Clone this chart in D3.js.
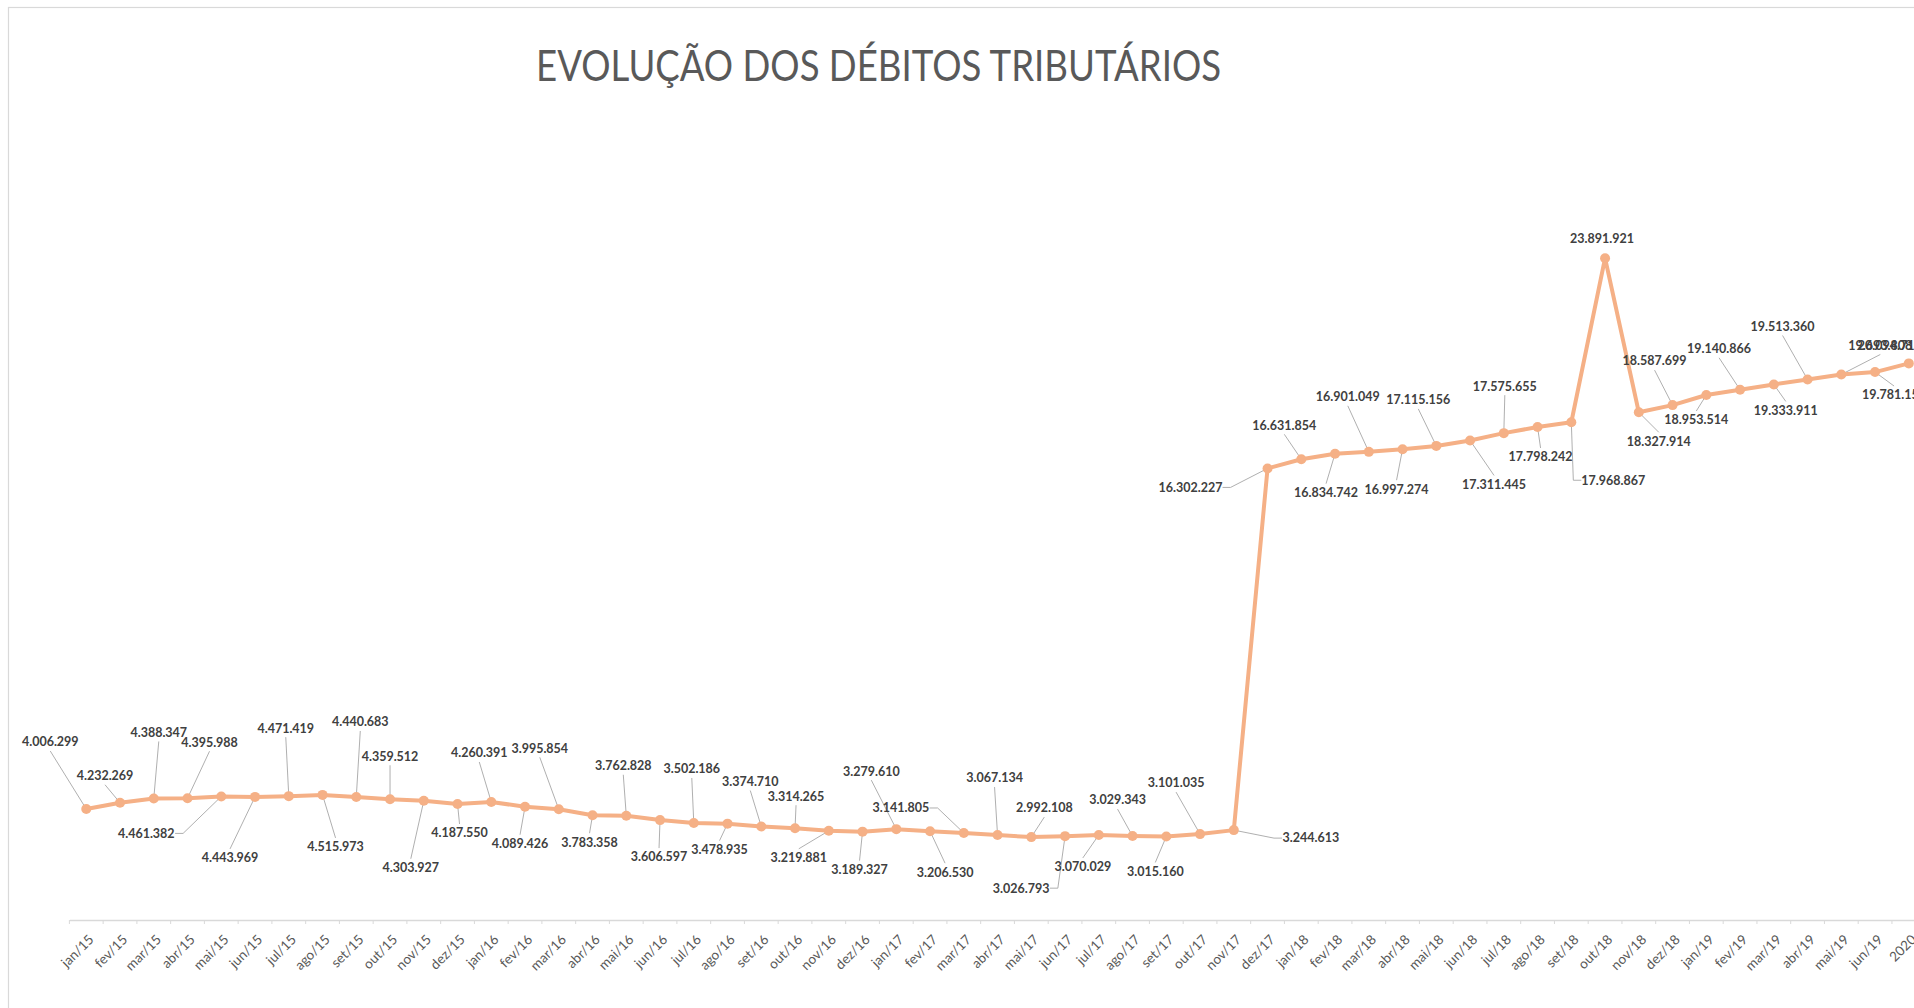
<!DOCTYPE html>
<html>
<head>
<meta charset="utf-8">
<script src="https://cdn.jsdelivr.net/npm/d3@7"></script>
<style>
  html, body { margin: 0; padding: 0; background: #fff; overflow: hidden; }
  svg { display: block; }
</style>
</head>
<body>
<svg id="chart" width="1914" height="1008"></svg>
<script>
const categories = [
  'jan/15', 'fev/15', 'mar/15', 'abr/15', 'mai/15', 'jun/15', 'jul/15', 'ago/15', 'set/15', 'out/15', 'nov/15', 'dez/15',
  'jan/16', 'fev/16', 'mar/16', 'abr/16', 'mai/16', 'jun/16', 'jul/16', 'ago/16', 'set/16', 'out/16', 'nov/16', 'dez/16',
  'jan/17', 'fev/17', 'mar/17', 'abr/17', 'mai/17', 'jun/17', 'jul/17', 'ago/17', 'set/17', 'out/17', 'nov/17', 'dez/17',
  'jan/18', 'fev/18', 'mar/18', 'abr/18', 'mai/18', 'jun/18', 'jul/18', 'ago/18', 'set/18', 'out/18', 'nov/18', 'dez/18',
  'jan/19', 'fev/19', 'mar/19', 'abr/19', 'mai/19', 'jun/19', '2020'
];

const debitos = [
  4006299, 4232269, 4388347, 4395988, 4461382, 4443969, 4471419, 4515973, 4440683, 4359512, 4303927, 4187550,
  4260391, 4089426, 3995854, 3783358, 3762828, 3606597, 3502186, 3478935, 3374710, 3314265, 3219881, 3189327,
  3279610, 3206530, 3141805, 3067134, 2992108, 3026793, 3070029, 3029343, 3015160, 3101035, 3244613, 16302227,
  16631854, 16834742, 16901049, 16997274, 17115156, 17311445, 17575655, 17798242, 17968867, 23891921, 18327914, 18587699,
  18953514, 19140866, 19333911, 19513360, 19693808, 19781150, 20094716
];

// where each data label was dragged to, relative to its point (px)
const labelOffsets = [
  [-36, -67], [-15, -27], [5, -66], [22, -56], [-75, 37], [-25, 61], [-3, -68], [13, 52], [4, -75], [0, -43], [-13, 67], [2, 29],
  [-12, -49], [-5, 37], [-19, -61], [-3, 27], [-3, -50], [-1, 37], [-2, -54], [-8, 26], [-11, -45], [1, -32], [-30, 27], [-3, 38],
  [-25, -58], [15, 41], [-63, -25], [-3, -57], [13, -29], [-44, 52], [-16, 32], [-15, -36], [-11, 35], [-24, -51], [77, 8], [-77, 19],
  [-17, -34], [-9, 39], [-21, -55], [-6, 40], [-18, -46], [24, 44], [1, -47], [3, 30], [42, 58], [-3, -20], [20, 29], [-18, -44],
  [-10, 25], [-21, -41], [12, 26], [-25, -53], [39, -29], [19, 23], [-19, -18]
];

const svg = d3.select('#chart');

const x = d3.scaleBand().domain(categories).range([69.4, 1925.7]);
const y = d3.scaleLinear().domain([0, 30000000]).range([920, 89]);
const cx = c => x(c) + x.bandwidth() / 2;

const fmt = d3.formatLocale({ decimal: ',', thousands: '.', grouping: [3], currency: ['R$ ', ''] }).format(',d');

// chart frame (right/bottom edges fall outside the picture)
svg.append('rect')
  .attr('x', 8.5).attr('y', 7.5)
  .attr('width', 2000).attr('height', 1100)
  .attr('fill', 'none').attr('stroke', '#d9d9d9').attr('stroke-width', 1.2);

// title
svg.append('text')
  .attr('x', 878.6).attr('y', 81)
  .attr('text-anchor', 'middle')
  .attr('font-family', 'Lato')
  .attr('font-size', 42)
  .attr('fill', '#595959')
  .attr('textLength', 685)
  .attr('lengthAdjust', 'spacingAndGlyphs')
  .text('EVOLUÇÃO DOS DÉBITOS TRIBUTÁRIOS');

// x axis
const xAxis = svg.append('g')
  .attr('transform', 'translate(0,920)')
  .call(d3.axisBottom(x).tickSize(0).tickSizeOuter(0));
xAxis.select('.domain').attr('stroke', '#d9d9d9').attr('stroke-width', 1.5);
xAxis.selectAll('.tick text')
  .attr('x', 0).attr('y', 0).attr('dy', '0.35em')
  .attr('transform', 'translate(5,17) rotate(-45)')
  .attr('text-anchor', 'end')
  .attr('font-family', 'Lato')
  .attr('font-size', 13.5)
  .attr('fill', '#595959');

// tick marks between categories
const bounds = categories.map(c => x(c)).concat([x.range()[1]]);
svg.append('g').selectAll('line').data(bounds).join('line')
  .attr('x1', d => d).attr('x2', d => d)
  .attr('y1', 920).attr('y2', 924)
  .attr('stroke', '#d9d9d9').attr('stroke-width', 1);

// points + label placement
const pts = categories.map((c, i) => {
  const px = cx(c), py = y(debitos[i]);
  return { c, v: debitos[i], px, py, lx: px + labelOffsets[i][0], ly: py + labelOffsets[i][1] };
});

pts.forEach(p => {
  const hw = fmt(p.v).length * 3.2, hh = 9;
  const gapX = Math.max(0, Math.abs(p.px - p.lx) - hw);
  const gapY = Math.max(0, Math.abs(p.py - p.ly) - hh);
  if (Math.hypot(gapX, gapY) < 12) { p.leader = null; return; }
  if (gapX > 9) {
    const dir = p.px > p.lx ? 1 : -1;
    const sx = p.lx + dir * hw;
    p.leader = [[sx, p.ly], [sx + dir * 8, p.ly], [p.px, p.py]];
  } else {
    const sy = p.py > p.ly ? p.ly + hh : p.ly - hh;
    p.leader = [[p.lx, sy], [p.px, p.py]];
  }
});

// leader lines
svg.append('g').selectAll('path').data(pts.filter(p => p.leader)).join('path')
  .attr('d', p => d3.line()(p.leader))
  .attr('fill', 'none')
  .attr('stroke', '#a6a6a6')
  .attr('stroke-width', 0.9);

// series
const line = d3.line().x(d => d.px).y(d => d.py);
svg.append('path')
  .datum(pts)
  .attr('d', line)
  .attr('fill', 'none')
  .attr('stroke', '#F5B086')
  .attr('stroke-width', 4)
  .attr('stroke-linejoin', 'round');

svg.append('g').selectAll('circle').data(pts).join('circle')
  .attr('cx', d => d.px).attr('cy', d => d.py)
  .attr('r', 5)
  .attr('fill', '#F5B086');

// data labels
svg.append('g').selectAll('text').data(pts).join('text')
  .attr('x', d => d.lx).attr('y', d => d.ly)
  .attr('dy', '0.35em')
  .attr('text-anchor', 'middle')
  .attr('font-family', 'Lato')
  .attr('font-weight', 'bold')
  .attr('font-size', 12.5)
  .attr('fill', '#404040')
  .text(d => fmt(d.v));
</script>
</body>
</html>
